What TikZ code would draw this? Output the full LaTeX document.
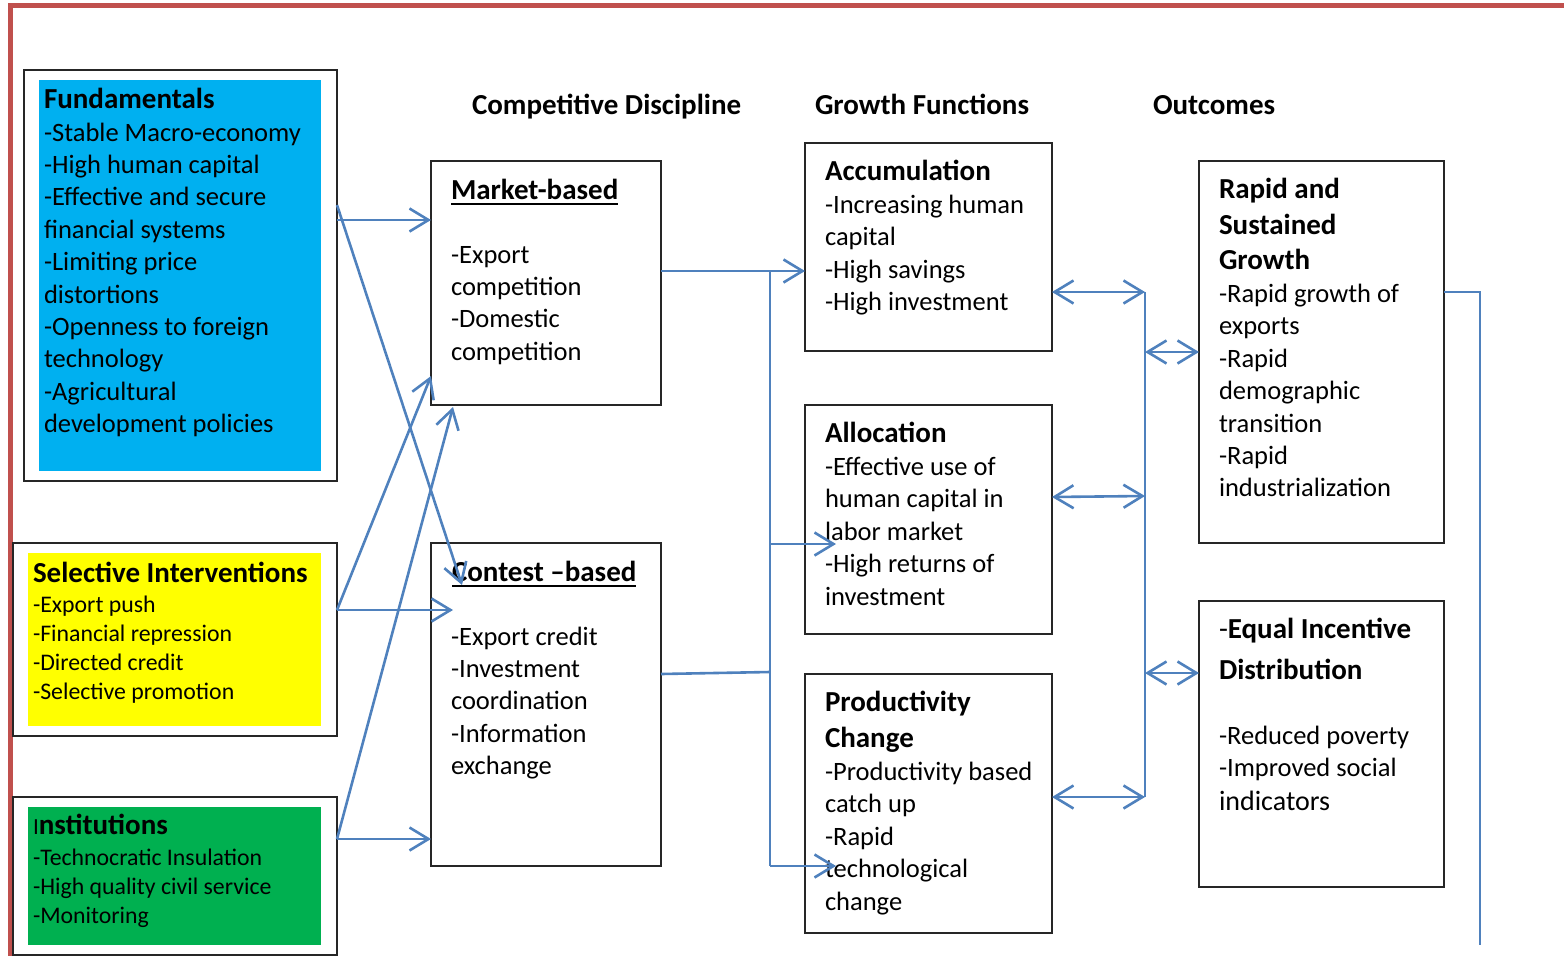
\documentclass[tikz,border=0pt]{standalone}
\usepackage{fontspec}
\setmainfont{Carlito}
\usetikzlibrary{arrows.meta,calc}
\definecolor{framered}{HTML}{C0504D}
\definecolor{linkblue}{HTML}{4F81BD}
\definecolor{fundblue}{HTML}{00B0F0}
\definecolor{selyellow}{HTML}{FFFF00}
\definecolor{instgreen}{HTML}{00B050}
% a stack of left-aligned lines whose baseline is the first line's baseline
\newcommand{\blocklines}[1]{\begin{tabular}[t]{@{}l@{}}#1\end{tabular}}
\begin{document}
\begin{tikzpicture}[x=1pt,y=-1pt,
  box/.style={draw=black!85, line width=1.3pt, anchor=north west, inner sep=0pt, outer sep=0pt},
  panel/.style={anchor=north west, inner sep=0pt, outer sep=0pt, draw=none},
  body/.style={anchor=base west, inner sep=0pt, outer sep=0pt,
    font=\fontsize{26.5}{32.4}\selectfont},
  smallbody/.style={body, font=\fontsize{23.8}{29.2}\selectfont},
  head/.style={anchor=base west, inner sep=0pt, outer sep=0pt,
    font=\fontsize{29}{35.5}\selectfont\bfseries},
  conn/.style={draw=linkblue, line width=2.6pt},
  arr/.style={conn, -{Straight Barb[length=19pt,width=23pt,line width=2.6pt]}},
  darr/.style={conn, {Straight Barb[length=19pt,width=23pt,line width=2.6pt]}-{Straight Barb[length=19pt,width=23pt,line width=2.6pt]}},
  uline/.style={line width=2pt, black},
]
\path[use as bounding box] (0,0) rectangle (1564,956);

% page frame
\draw[framered, line width=5pt] (10,960) -- (10,5) -- (1570,5);

% ---------- left column: policy groups ----------
\node[box, minimum width=313pt, minimum height=411pt] (fund) at (24,70) {};
\node[panel, fill=fundblue, minimum width=282pt, minimum height=391pt] (fundfill) at (39,80) {};
\node[head] (fundhead) at (44,108) {Fundamentals};
\node[body] (fundbody) at (44,141) {\blocklines{-Stable Macro-economy\\-High human capital\\-Effective and secure\\financial systems\\-Limiting price\\distortions\\-Openness to foreign\\technology\\-Agricultural\\development policies}};

\node[box, minimum width=324pt, minimum height=193pt] (sel) at (13,543) {};
\node[panel, fill=selyellow, minimum width=293pt, minimum height=173pt] (selfill) at (28,553) {};
\node[head] (selhead) at (33,582) {Selective Interventions};
\node[smallbody] (selbody) at (33,612) {\blocklines{-Export push\\-Financial repression\\-Directed credit\\-Selective promotion}};

\node[box, minimum width=324pt, minimum height=158pt] (inst) at (13,797) {};
\node[panel, fill=instgreen, minimum width=293pt, minimum height=138pt] (instfill) at (28,807) {};
\node[head] (insthead) at (33,834) {{\mdseries\fontsize{23}{28}\selectfont I}nstitutions};
\node[smallbody] (instbody) at (33,865) {\blocklines{-Technocratic Insulation\\-High quality civil service\\-Monitoring}};

% ---------- column titles ----------
\node[head] (titlecd) at (472,114.5) {Competitive Discipline};
\node[head] (titlegf) at (815,114.5) {Growth Functions};
\node[head] (titleout) at (1153,114.5) {Outcomes};

% ---------- competitive discipline ----------
\node[box, minimum width=230pt, minimum height=244pt] (mkt) at (431,161) {};
\node[head] (mkthead) at (451,199.5) {Market-based};
\draw[uline] ([yshift=-4pt]mkthead.base west) -- ([yshift=-4pt]mkthead.base east);
\node[body] (mktbody) at (451,263) {\blocklines{-Export\\competition\\-Domestic\\competition}};

\node[box, minimum width=230pt, minimum height=323pt] (cont) at (431,543) {};
\node[head] (conthead) at (452,581.5) {Contest –based};
\draw[uline] ([yshift=-4pt]conthead.base west) -- ([yshift=-4pt]conthead.base east);
\node[body] (contbody) at (451,645) {\blocklines{-Export credit\\-Investment\\coordination\\-Information\\exchange}};

% ---------- growth functions ----------
\node[box, minimum width=247pt, minimum height=208pt] (acc) at (805,143) {};
\node[head] (acchead) at (825,180.5) {Accumulation};
\node[body] (accbody) at (825,213.5) {\blocklines{-Increasing human\\capital\\-High savings\\-High investment}};

\node[box, minimum width=247pt, minimum height=229pt] (alloc) at (805,405) {};
\node[head] (allochead) at (825,442.5) {Allocation};
\node[body] (allocbody) at (825,475.5) {\blocklines{-Effective use of\\human capital in\\labor market\\-High returns of\\investment}};

\node[box, minimum width=247pt, minimum height=259pt] (prod) at (805,674) {};
\node[head] (prodhead) at (825,711.5) {\blocklines{Productivity\\Change}};
\node[body] (prodbody) at (825,780.5) {\blocklines{-Productivity based\\catch up\\-Rapid\\technological\\change}};

% ---------- outcomes ----------
\node[box, minimum width=245pt, minimum height=382pt] (rapid) at (1199,161) {};
\node[head] (rapidhead) at (1219,198.5) {\blocklines{Rapid and\\Sustained\\Growth}};
\node[body] (rapidbody) at (1219,302.5) {\blocklines{-Rapid growth of\\exports\\-Rapid\\demographic\\transition\\-Rapid\\industrialization}};

\node[box, minimum width=245pt, minimum height=286pt] (equal) at (1199,601) {};
\node[head, font=\fontsize{29}{41}\selectfont\bfseries] (equalhead) at (1219,638.5) {\blocklines{{\mdseries -}Equal Incentive\\Distribution}};
\node[body] (equalbody) at (1219,744.5) {\blocklines{-Reduced poverty\\-Improved social\\[1.5pt]{\fontsize{28}{34}\selectfont indicators}}};

% ---------- connectors: policies to discipline ----------
\draw[arr] (fund.east |- 0,220) -- (mkt.west |- 0,220);
\draw[arr] (fund.east |- 0,205) -- ($(cont.north west)+(31,42)$);
\draw[arr] (sel.east |- 0,610) -- (mkt.west |- 0,376);
\draw[arr] (sel.east |- 0,610) -- ($(cont.west |- 0,610)+(22,0)$);
\draw[arr] (inst.east |- 0,839) -- ($(mkt.south west)+(22,2)$);
\draw[arr] (inst.east |- 0,839) -- (cont.west |- 0,839);

% ---------- connectors: discipline to growth functions ----------
\coordinate (lbustop) at (770,271);
\coordinate (lbusmid) at (770,672);
\coordinate (lbusalloc) at (770,544);
\coordinate (lbusbot) at (770,866);
\draw[arr] (mkt.east |- lbustop) -- (acc.west |- lbustop);
\draw[conn] (lbustop) -- (lbusbot);
\draw[conn] (cont.east |- 0,674) -- (lbusmid);
\draw[arr] (lbusalloc) -- ($(alloc.west |- lbusalloc)+(31,0)$);
\draw[arr] (lbusbot) -- ($(prod.west |- lbusbot)+(31,0)$);

% ---------- connectors: growth functions to outcomes ----------
\coordinate (rbustop) at (1145,292);
\coordinate (rbusalloc) at (1145,496);
\coordinate (rbusbot) at (1145,797);
\coordinate (rbusrapid) at (1145,352);
\coordinate (rbusequal) at (1145,673);
\draw[conn] (rbustop) -- (rbusbot);
\draw[darr] (acc.east |- rbustop) -- (rbustop);
\draw[darr] (alloc.east |- 0,497) -- (rbusalloc);
\draw[darr] (prod.east |- rbusbot) -- (rbusbot);
\draw[darr] (rbusrapid) -- (rapid.west |- rbusrapid);
\draw[darr] (rbusequal) -- (equal.west |- rbusequal);

% ---------- feedback line on the right ----------
\coordinate (fbcorner) at (1480,292);
\coordinate (fbend) at (1480,945);
\draw[conn] (rapid.east |- fbcorner) -- (fbcorner) -- (fbend);
\end{tikzpicture}
\end{document}
